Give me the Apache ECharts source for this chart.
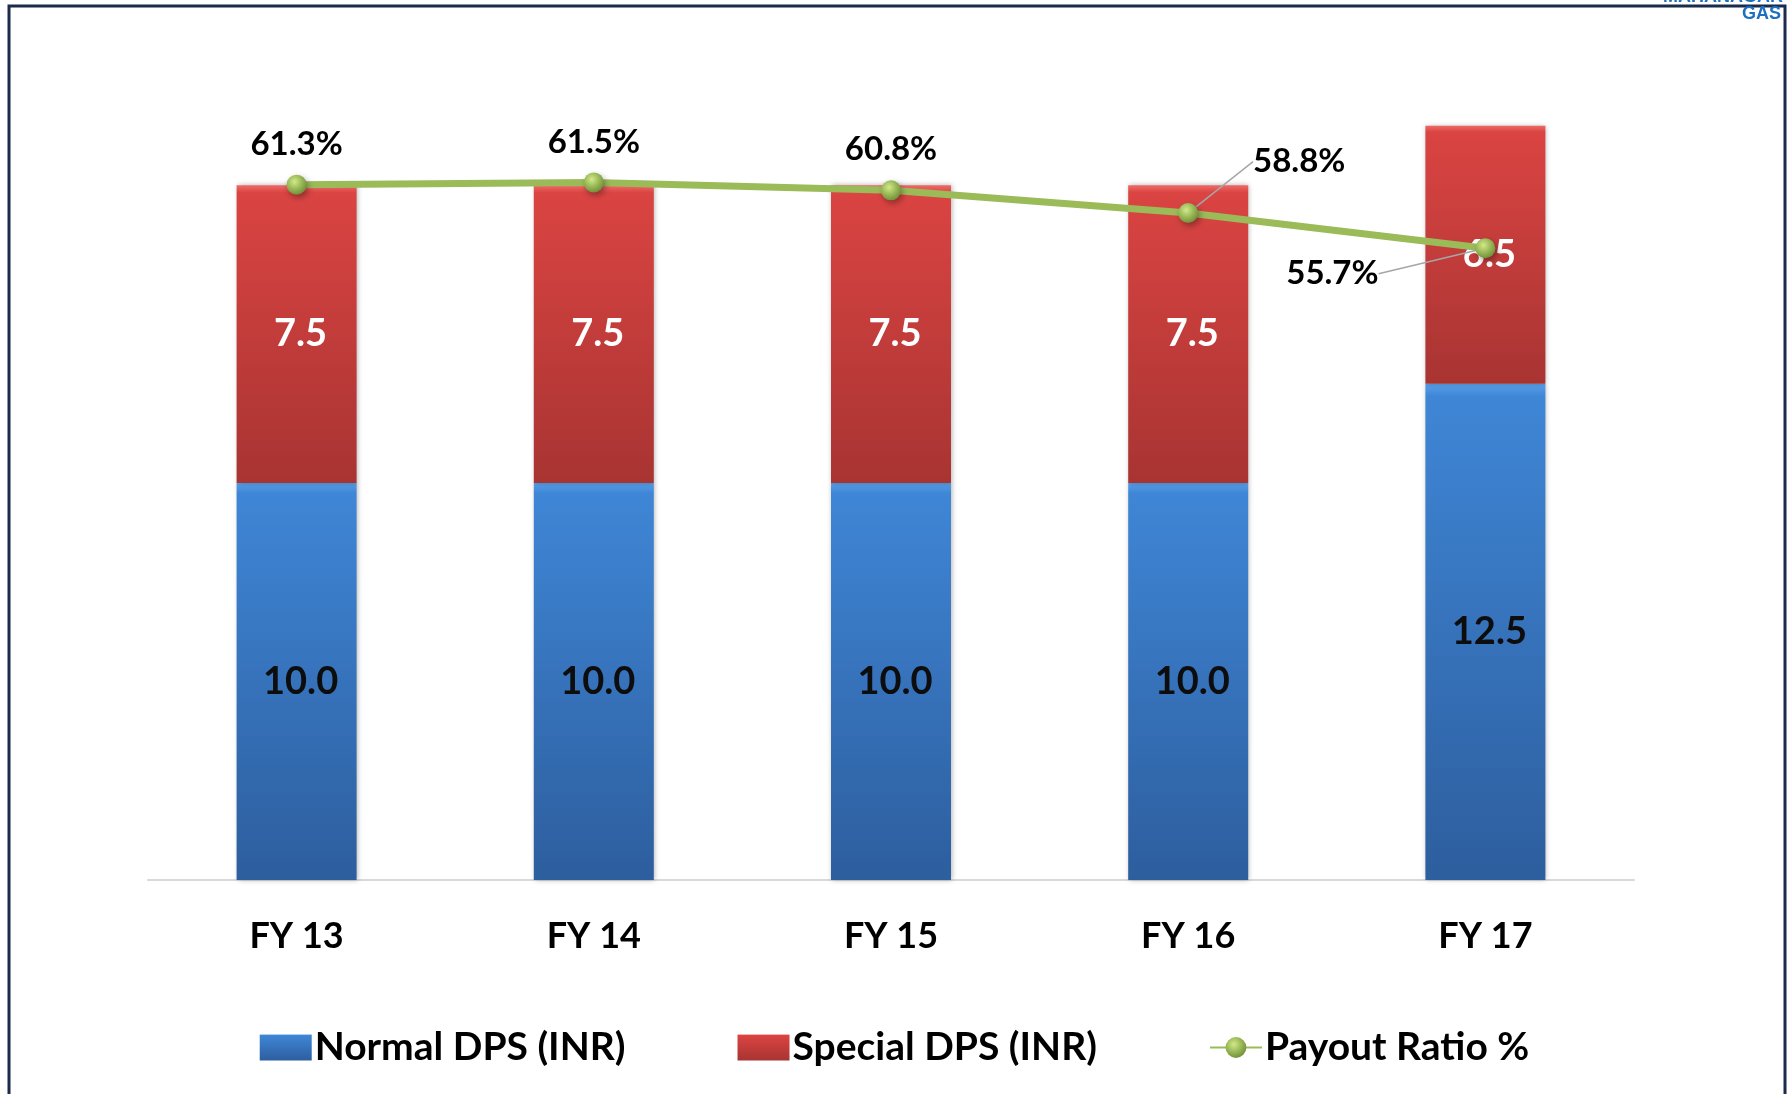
<!DOCTYPE html>
<html>
<head>
<meta charset="utf-8">
<script src="https://cdn.jsdelivr.net/npm/echarts@6/dist/echarts.min.js"></script>
<style>
  html, body { margin: 0; padding: 0; background: #fff; }
  #chart { width: 1789px; height: 1094px; }
</style>
</head>
<body>
<div id="chart"></div>
<script>
  // data
  const categories = ['FY 13', 'FY 14', 'FY 15', 'FY 16', 'FY 17'];
  const normalDps = [10.0, 10.0, 10.0, 10.0, 12.5];
  const specialDps = [7.5, 7.5, 7.5, 7.5, 6.5];
  const payoutRatio = [61.3, 61.5, 60.8, 58.8, 55.7];

  const chart = echarts.init(document.getElementById('chart'));
  const font = 'Lato, "Noto Sans", sans-serif';

  const blueFill = new echarts.graphic.LinearGradient(0, 0, 0, 1, [
    { offset: 0, color: '#5aa0ea' },
    { offset: 0.025, color: '#3f86d6' },
    { offset: 1, color: '#2d5e9e' }
  ]);
  const redFill = new echarts.graphic.LinearGradient(0, 0, 0, 1, [
    { offset: 0, color: '#ee6a66' },
    { offset: 0.025, color: '#da4442' },
    { offset: 1, color: '#a83432' }
  ]);
  const dot = new echarts.graphic.RadialGradient(0.4, 0.35, 0.7, [
    { offset: 0, color: '#d4e88a' },
    { offset: 0.5, color: '#9bbb59' },
    { offset: 1, color: '#6f8a36' }
  ]);

  // the two labels that sit away from their points, with a leader line
  const labelMoves = { 3: { dx: 111, dy: -11 }, 4: { dx: -153, dy: 66 } };
  const lineData = payoutRatio.map((v, i) => ({
    value: v,
    labelLine: { show: !!labelMoves[i] }
  }));

  chart.setOption({
    animation: false,
    graphic: [
      {
        type: 'rect',
        shape: { x: 9, y: 6, width: 1776, height: 1120 },
        style: { fill: 'none', stroke: '#1b2b4b', lineWidth: 3 },
        z: 0
      },
      {
        type: 'text',
        right: 6,
        top: -12,
        style: { text: 'MAHANAGAR', fill: '#1f6fc0', font: 'bold 18px "Liberation Sans", Arial' }
      },
      {
        type: 'text',
        right: 8,
        top: 5,
        style: { text: 'GAS', fill: '#1f6fc0', font: 'bold 18px "Liberation Sans", Arial' }
      }
    ],
    legend: {
      bottom: 22,
      left: 'center',
      itemWidth: 52,
      itemHeight: 26,
      itemGap: 112,
      textStyle: { fontFamily: font, fontWeight: 'bold', fontSize: 39, color: '#000', padding: [0, 0, 0, -2] },
      data: [
        { name: 'Normal DPS (INR)', icon: 'rect' },
        { name: 'Special DPS (INR)', icon: 'rect' },
        { name: 'Payout Ratio %' }
      ]
    },
    grid: { left: 148, right: 155, top: 86, bottom: 214 },
    xAxis: {
      type: 'category',
      data: categories,
      axisLine: { lineStyle: { color: '#d9d9d9', width: 2 } },
      axisTick: { show: false },
      axisLabel: {
        margin: 38,
        color: '#000',
        fontFamily: font,
        fontWeight: 'bold',
        fontSize: 36
      }
    },
    yAxis: [
      { type: 'value', min: 0, max: 20, show: false, splitLine: { show: false } },
      { type: 'value', min: 0, max: 70, show: false, splitLine: { show: false } }
    ],
    series: [
      {
        name: 'Normal DPS (INR)',
        type: 'bar',
        stack: 'dps',
        barWidth: 120,
        data: normalDps,
        itemStyle: {
          color: blueFill,
          shadowColor: 'rgba(0,0,0,0.3)',
          shadowBlur: 5,
          shadowOffsetX: 1
        },
        label: {
          show: true,
          position: 'inside',
          offset: [4, 0],
          formatter: p => p.value.toFixed(1),
          color: '#0d0d0d',
          fontFamily: font,
          fontWeight: 'bold',
          fontSize: 38
        }
      },
      {
        name: 'Special DPS (INR)',
        type: 'bar',
        stack: 'dps',
        barWidth: 120,
        data: specialDps,
        itemStyle: {
          color: redFill,
          shadowColor: 'rgba(0,0,0,0.3)',
          shadowBlur: 5,
          shadowOffsetX: 1
        },
        label: {
          show: true,
          position: 'inside',
          offset: [4, 0],
          formatter: p => p.value.toFixed(1),
          color: '#fff',
          fontFamily: font,
          fontWeight: 'bold',
          fontSize: 38
        }
      },
      {
        name: 'Payout Ratio %',
        type: 'line',
        yAxisIndex: 1,
        data: lineData,
        symbol: 'circle',
        symbolSize: 20,
        z: 5,
        lineStyle: { color: '#9bbb59', width: 7 },
        itemStyle: {
          color: dot,
          borderWidth: 0,
          shadowColor: 'rgba(0,0,0,0.35)',
          shadowBlur: 6,
          shadowOffsetX: 2,
          shadowOffsetY: 3
        },
        label: {
          show: true,
          position: 'top',
          distance: 14,
          formatter: p => p.value.toFixed(1) + '%',
          color: '#000',
          fontFamily: font,
          fontWeight: 'bold',
          fontSize: 33
        },
        labelLine: {
          show: false,
          lineStyle: { color: '#a6a6a6', width: 1.5 }
        },
        labelLayout: p => labelMoves[p.dataIndex] || {}
      }
    ]
  });
</script>
</body>
</html>
